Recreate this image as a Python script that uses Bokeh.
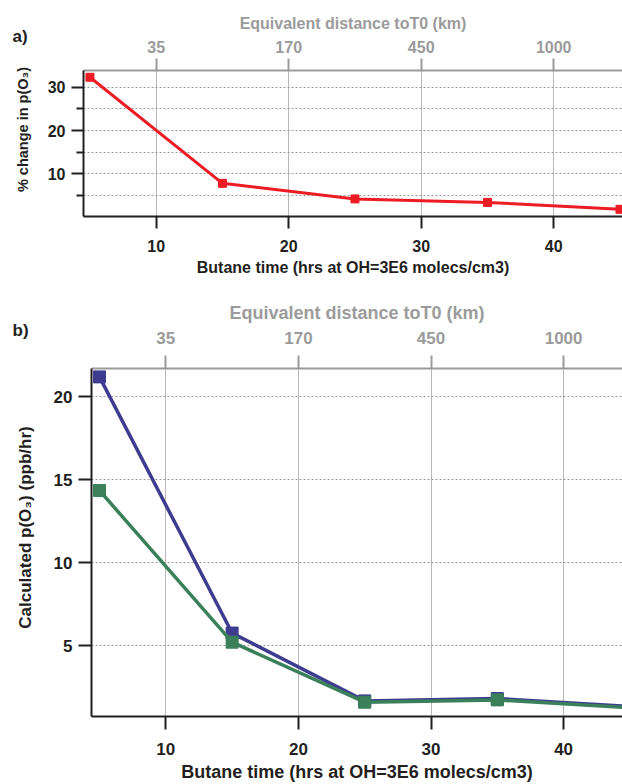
import math

from bokeh.plotting import figure
from bokeh.models import LinearAxis, FixedTicker, Label, Range1d
from bokeh.layouts import column, row
from bokeh.embed import file_html
from bokeh.resources import INLINE

# Butane photochemical age (hours at OH = 3E6 molecules/cm3)
butane_hours = [5, 15, 25, 35, 45]

# a) percent change in ozone production
pct_change = [32.3, 7.8, 4.2, 3.4, 1.8]

# b) calculated ozone production (ppb/hr), two model cases
po3_blue = [21.2, 5.75, 1.66, 1.80, 1.33]
po3_green = [14.35, 5.2, 1.58, 1.72, 1.25]

# equivalent-distance labels placed on the butane-time ticks
time_ticks = [10, 20, 30, 40]
distance_labels = ["35", "170", "450", "1000"]

FONT = "Liberation Sans"
DARK = "#231f20"
GRAY = "#9b9b9b"
RED = "#ed1c24"
BLUE = "#3e3c8f"
GREEN = "#3a805a"

X_TITLE = "Butane time (hrs at OH=3E6 molecs/cm3)"
TOP_TITLE = "Equivalent distance toT0 (km)"


def style_axis(ax, color, label_size, title_size, tick_out, label_standoff, title_standoff):
    ax.axis_line_color = color
    ax.axis_line_width = 2
    ax.major_tick_line_color = color
    ax.major_tick_line_width = 2
    ax.major_tick_in = 0
    ax.major_tick_out = tick_out
    ax.minor_tick_line_color = color
    ax.minor_tick_line_width = 2
    ax.minor_tick_in = 0
    ax.major_label_text_font = FONT
    ax.major_label_text_font_style = "bold"
    ax.major_label_text_font_size = label_size
    ax.major_label_text_color = color
    ax.major_label_standoff = label_standoff
    ax.axis_label_text_font = FONT
    ax.axis_label_text_font_style = "bold"
    ax.axis_label_text_font_size = title_size
    ax.axis_label_text_color = color
    ax.axis_label_standoff = title_standoff


def canvas_text(text, x, y, size, angle=0.0, align="left"):
    # free text in canvas pixels, kept in a side panel so it is not clipped
    return Label(x=x, y=y, x_units="canvas", y_units="canvas", text=text, angle=angle,
                 text_font=FONT, text_font_style="bold", text_font_size=size,
                 text_color=DARK, text_baseline="middle", text_align=align)


def make_panel(height, left, top, bottom, xr, yr, yticks, yminor,
               label_size, title_size, tick_out,
               bottom_label_standoff, top_label_standoff):
    p = figure(width=622, height=height, output_backend="svg", toolbar_location=None,
               x_range=Range1d(*xr), y_range=Range1d(*yr),
               min_border_left=left, min_border_right=0,
               min_border_top=top, min_border_bottom=bottom)
    p.outline_line_color = None
    p.background_fill_color = "white"
    p.border_fill_color = "white"

    p.xaxis.ticker = FixedTicker(ticks=time_ticks, minor_ticks=[])
    p.xaxis.axis_label = X_TITLE
    style_axis(p.xaxis[0], DARK, label_size, title_size, tick_out, bottom_label_standoff, 4)

    p.yaxis.ticker = FixedTicker(ticks=yticks, minor_ticks=yminor)
    style_axis(p.yaxis[0], DARK, label_size, title_size, tick_out, 6, 0)
    p.yaxis.minor_tick_out = 7

    top_axis = LinearAxis(ticker=FixedTicker(ticks=time_ticks, minor_ticks=[]),
                          major_label_overrides=dict(zip(time_ticks, distance_labels)),
                          axis_label=TOP_TITLE)
    style_axis(top_axis, GRAY, label_size, title_size, tick_out, top_label_standoff, 6)
    p.add_layout(top_axis, "above")

    p.xgrid.grid_line_color = "#b8b8b8"
    p.xgrid.grid_line_width = 1
    p.ygrid.grid_line_color = "#9a9a9a"
    p.ygrid.grid_line_width = 1
    p.ygrid.grid_line_dash = "2 2"
    if yminor:
        p.ygrid.minor_grid_line_color = "#9a9a9a"
        p.ygrid.minor_grid_line_width = 1
        p.ygrid.minor_grid_line_dash = "2 2"
    return p


# ---- panel a ----
pa = make_panel(290, 83, 70, 74, (4.513, 45.19), (0.14, 33.86),
                [10, 20, 30], [5, 15, 25], "16px", "16px", 12, 11, 6)
pa.add_layout(canvas_text("a)", 12, 36, "17px"), "left")
pa.add_layout(canvas_text("% change in p(O\u2083)", 22, 129, "14.5px",
                          angle=math.pi / 2, align="center"), "left")
pa.line(butane_hours, pct_change, line_color=RED, line_width=3)
pa.scatter(butane_hours, pct_change, marker="square", size=8,
           fill_color=RED, line_color=RED)

# ---- panel b ----
pb = make_panel(494, 91, 78, 68, (4.397, 44.44), (0.718, 21.707),
                [5, 10, 15, 20], [], "17px", "18px", 13, 13, 12)
pb.add_layout(canvas_text("b)", 12, 40, "17px"), "left")
pb.add_layout(canvas_text("Calculated p(O\u2083) (ppb/hr)", 25, 527 - 290, "17px",
                          angle=math.pi / 2, align="center"), "left")
pb.line(butane_hours, po3_blue, line_color=BLUE, line_width=3.5)
pb.scatter(butane_hours, po3_blue, marker="square", size=12,
           fill_color=BLUE, line_color=BLUE)
pb.line(butane_hours, po3_green, line_color=GREEN, line_width=3.5)
pb.scatter(butane_hours, po3_green, marker="square", size=12,
           fill_color=GREEN, line_color=GREEN)

# each panel in its own row so the two frames keep their own left edges
layout = column(row(pa), row(pb), spacing=0)
open("out.html", "w").write(file_html(layout, INLINE))
